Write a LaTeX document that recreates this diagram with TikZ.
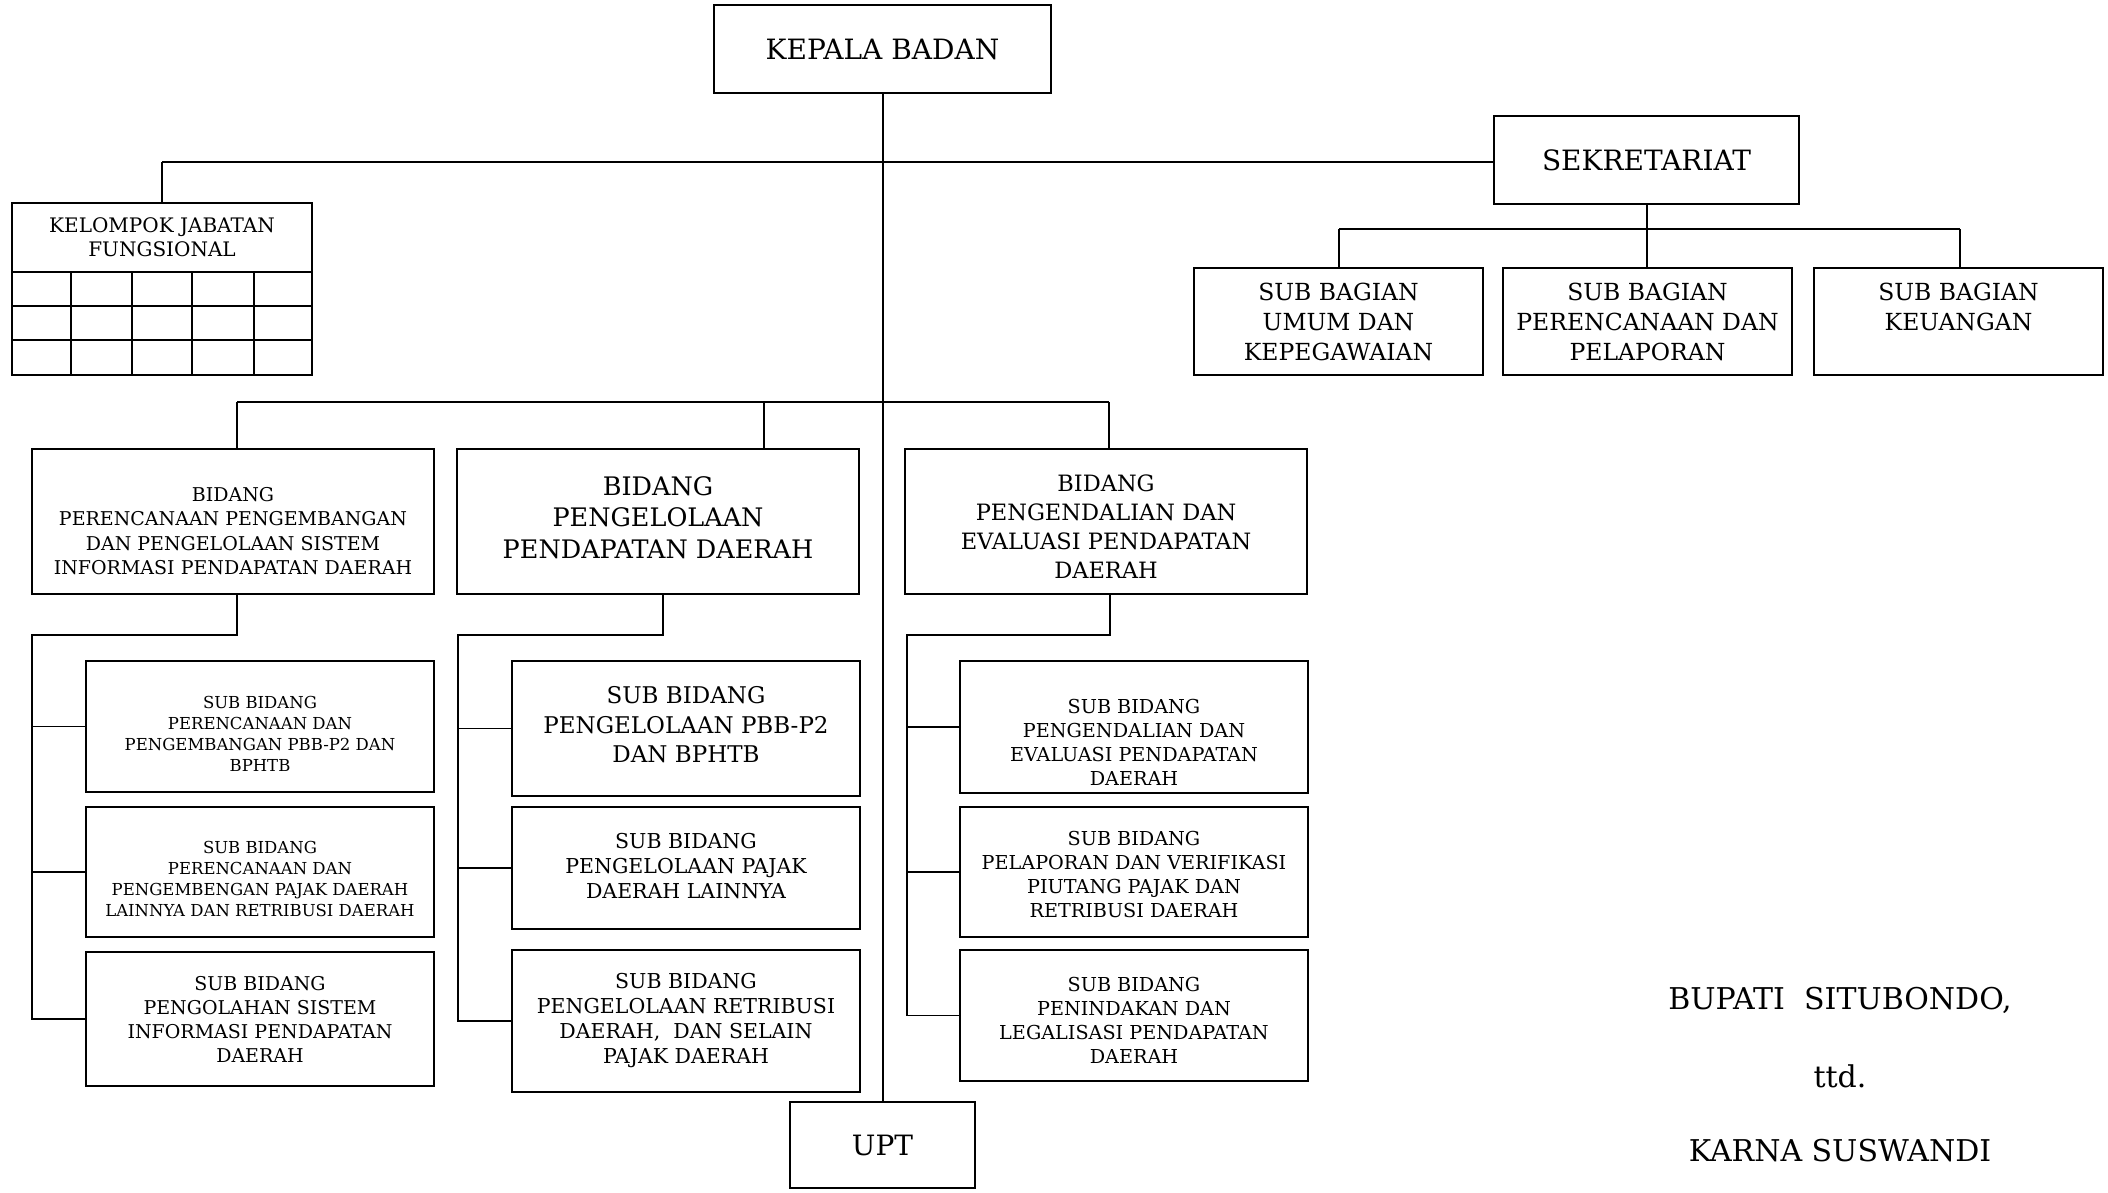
\documentclass[tikz,border=0pt]{standalone}
\usepackage{fontspec}
\setmainfont{DejaVu Serif}
\newcommand\dnb[1]{\rule{0pt}{\dimexpr0.73em+#1pt\relax}}
\newcommand\upb[1]{\rule[-#1pt]{0pt}{0pt}}
\begin{document}
\begin{tikzpicture}[x=1pt,y=-1pt,
  box/.style={draw, line width=2.2pt, align=center, inner sep=0pt, anchor=center},
  conn/.style={line width=1.4pt},
  gridln/.style={line width=1.4pt},
  fA/.style={font=\fontsize{28}{34}\selectfont},
  fSek/.style={font=\fontsize{23.5}{30}\selectfont},
  fKel/.style={font=\fontsize{20}{24}\selectfont},
  fB1/.style={font=\fontsize{19}{24.5}\selectfont},
  fB2/.style={font=\fontsize{25.5}{31.5}\selectfont},
  fB3/.style={font=\fontsize{22.5}{29}\selectfont},
  fS1/.style={font=\fontsize{16.5}{21}\selectfont},
  fS13/.style={font=\fontsize{19}{24}\selectfont},
  fS21/.style={font=\fontsize{23}{29.5}\selectfont},
  fS22/.style={font=\fontsize{20.5}{25}\selectfont},
  fS3/.style={font=\fontsize{19.2}{24}\selectfont},
  fSig/.style={font=\fontsize{30}{36}\selectfont}]
\useasboundingbox (0,0) rectangle (2108,1192);
\fill[white] (0,0) rectangle (2108,1192);

% top
\node[box,fA,minimum width=337pt,minimum height=88pt] (kepala) at (882.5,49) {KEPALA BADAN};
\node[box,fA,minimum width=305pt,minimum height=88pt] (sek) at (1646.5,160) {SEKRETARIAT};
\node[box,fA,minimum width=185pt,minimum height=86pt] (upt) at (882.5,1145) {UPT};

% sub bagian
\node[box,fSek,minimum width=289pt,minimum height=107pt] (sb1) at (1338.5,321.5) {SUB BAGIAN\\UMUM DAN\\KEPEGAWAIAN};
\node[box,fSek,minimum width=289pt,minimum height=107pt] (sb2) at (1647.5,321.5) {SUB BAGIAN\\PERENCANAAN DAN\\PELAPORAN};
\node[box,fSek,minimum width=289pt,minimum height=107pt,text depth=30pt] (sb3) at (1958.5,321.5) {SUB BAGIAN\\KEUANGAN};

% kelompok jabatan fungsional
\node[box,fKel,minimum width=300pt,minimum height=69pt] (kel) at (162,237.5) {KELOMPOK JABATAN\\FUNGSIONAL};
\node[draw,line width=2.2pt,minimum width=300pt,minimum height=103pt,inner sep=0pt] (kgrid) at (162,323.5) {};
\draw[gridln] (12,306) -- (312,306) (12,340) -- (312,340);
\foreach \gx in {71,132,192,254} \draw[gridln] (\gx,272) -- (\gx,375);

% bidang
\node[box,fB1,minimum width=402pt,minimum height=145pt] (b1) at (233,521.5) {\dnb{19}BIDANG\\PERENCANAAN PENGEMBANGAN\\DAN PENGELOLAAN SISTEM\\INFORMASI PENDAPATAN DAERAH};
\node[box,fB2,minimum width=402pt,minimum height=145pt] (b2) at (658,521.5) {BIDANG\\PENGELOLAAN\\PENDAPATAN DAERAH\upb{8}};
\node[box,fB3,minimum width=402pt,minimum height=145pt] (b3) at (1106,521.5) {\dnb{10}BIDANG\\PENGENDALIAN DAN\\EVALUASI PENDAPATAN\\DAERAH};

% sub bidang col 1
\node[box,fS1,minimum width=348pt,minimum height=131pt] (s11) at (260,726.5) {\dnb{14}SUB BIDANG\\PERENCANAAN DAN\\PENGEMBANGAN PBB-P2 DAN\\BPHTB};
\node[box,fS1,minimum width=348pt,minimum height=130pt] (s12) at (260,872) {\dnb{14}SUB BIDANG\\PERENCANAAN DAN\\PENGEMBENGAN PAJAK DAERAH\\LAINNYA DAN RETRIBUSI DAERAH};
\node[box,fS13,minimum width=348pt,minimum height=134pt] (s13) at (260,1019) {SUB BIDANG\\PENGOLAHAN SISTEM\\INFORMASI PENDAPATAN\\DAERAH};

% sub bidang col 2
\node[box,fS21,minimum width=348pt,minimum height=135pt] (s21) at (686,728.5) {SUB BIDANG\\PENGELOLAAN PBB-P2\\DAN BPHTB\upb{8}};
\node[box,fS22,minimum width=348pt,minimum height=122pt] (s22) at (686,868) {SUB BIDANG\\PENGELOLAAN PAJAK\\DAERAH LAINNYA\upb{4}};
\node[box,fS22,minimum width=348pt,minimum height=142pt] (s23) at (686,1021) {SUB BIDANG\\PENGELOLAAN RETRIBUSI\\DAERAH,\ \ DAN SELAIN\\PAJAK DAERAH};

% sub bidang col 3
\node[box,fS3,minimum width=348pt,minimum height=132pt] (s31) at (1134,727) {\dnb{30}SUB BIDANG\\PENGENDALIAN DAN\\EVALUASI PENDAPATAN\\DAERAH};
\node[box,fS3,minimum width=348pt,minimum height=130pt] (s32) at (1134,872) {\dnb{5}SUB BIDANG\\PELAPORAN DAN VERIFIKASI\\PIUTANG PAJAK DAN\\RETRIBUSI DAERAH};
\node[box,fS3,minimum width=348pt,minimum height=131pt] (s33) at (1134,1015.5) {\dnb{10}SUB BIDANG\\PENINDAKAN DAN\\LEGALISASI PENDAPATAN\\DAERAH};

% signature
\node[fSig] (sig1) at (1840,1000) {BUPATI\ \ SITUBONDO,};
\node[fSig] (sig2) at (1840,1076) {ttd.};
\node[fSig] (sig3) at (1840,1151) {KARNA SUSWANDI};

% coordinates
\coordinate (jtop) at (883,162);
\coordinate (jkel) at (162,162);
\coordinate (jb1) at (237,402);
\coordinate (jb2) at (764,402);
\coordinate (jb3) at (1109,402);
\coordinate (jsek) at (1647,229);
\coordinate (jsb1) at (1339,229);
\coordinate (jsb3) at (1960,229);
\coordinate (c1a) at (237,635);
\coordinate (c1b) at (32,635);
\coordinate (c2a) at (663,635);
\coordinate (c2b) at (458,635);
\coordinate (c3a) at (1110,635);
\coordinate (c3b) at (907,635);

% connectors
\draw[conn] (kepala.south -| jtop) -- (upt.north -| jtop);
\draw[conn] (jkel) -- (jtop) -- (jtop -| sek.west);
\draw[conn] (jkel) -- (kel.north -| jkel);
\draw[conn] (sek.south -| jsek) -- (jsek);
\draw[conn] (jsb1) -- (jsb3);
\draw[conn] (jsb1) -- (sb1.north -| jsb1);
\draw[conn] (jsek) -- (sb2.north -| jsek);
\draw[conn] (jsb3) -- (sb3.north -| jsb3);
\draw[conn] (jb1) -- (jb3);
\draw[conn] (jb1) -- (b1.north -| jb1);
\draw[conn] (jb2) -- (b2.north -| jb2);
\draw[conn] (jb3) -- (b3.north -| jb3);

\draw[conn] (b1.south -| c1a) -- (c1a) -- (c1b) -- (c1b |- s13.west) -- (s13.west);
\draw[conn] (c1b |- s11.west) -- (s11.west);
\draw[conn] (c1b |- s12.west) -- (s12.west);

\draw[conn] (b2.south -| c2a) -- (c2a) -- (c2b) -- (c2b |- s23.west) -- (s23.west);
\draw[conn] (c2b |- s21.west) -- (s21.west);
\draw[conn] (c2b |- s22.west) -- (s22.west);

\draw[conn] (b3.south -| c3a) -- (c3a) -- (c3b) -- (c3b |- s33.west) -- (s33.west);
\draw[conn] (c3b |- s31.west) -- (s31.west);
\draw[conn] (c3b |- s32.west) -- (s32.west);
\end{tikzpicture}
\end{document}
